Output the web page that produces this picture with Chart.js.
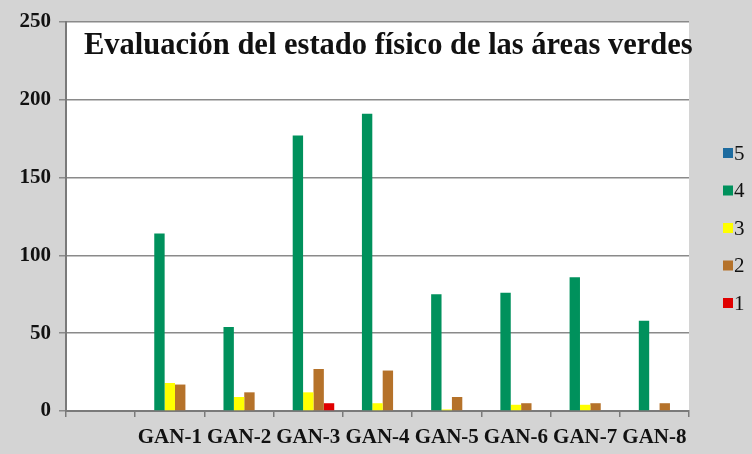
<!DOCTYPE html>
<html>
<head>
<meta charset="utf-8">
<script src="https://cdn.jsdelivr.net/npm/chart.js@4/dist/chart.umd.min.js"></script>
<style>
  html, body { margin: 0; padding: 0; background: #d4d4d4; }
  #wrap { width: 752px; height: 454px; }
</style>
</head>
<body>
<div id="wrap"><canvas id="myChart" width="752" height="454"></canvas></div>
<script>
// categories (first slot is empty in the original)
const categories = ['', 'GAN-1', 'GAN-2', 'GAN-3', 'GAN-4', 'GAN-5', 'GAN-6', 'GAN-7', 'GAN-8'];
const seriesNames = ['5', '4', '3', '2', '1'];
const values5 = [null, 0, 0, 0, 0, 0, 0, 0, 0];
const values4 = [null, 114, 54, 177, 191, 75, 76, 86, 58];
const values3 = [null, 18, 9, 12, 5, 1, 4, 4, 0];
const values2 = [null, 17, 12, 27, 26, 9, 5, 5, 5];
const values1 = [null, 0, 0, 5, 0, 0, 0, 0, 0];
const yTicks = [0, 50, 100, 150, 200, 250];
const chartTitle = 'Evaluación del estado físico de las áreas verdes';

const colors = ['#1d6b9f', '#00915c', '#ffff00', '#b5722a', '#e00000'];
const allValues = [values5, values4, values3, values2, values1];

let datasets = [];
for (let i = 0; i < seriesNames.length; i++) {
  datasets.push({
    label: seriesNames[i],
    data: allValues[i],
    backgroundColor: colors[i],
    borderWidth: 0,
    barPercentage: 1,
    categoryPercentage: 0.75
  });
}

// white plot area on gray background, title inside the plot, legend on the right
const decor = {
  id: 'decor',
  beforeDraw(chart) {
    const ctx = chart.ctx;
    const a = chart.chartArea;
    ctx.save();
    ctx.fillStyle = '#d4d4d4';
    ctx.fillRect(0, 0, chart.width, chart.height);
    ctx.fillStyle = '#ffffff';
    ctx.fillRect(a.left, a.top, a.right - a.left, a.bottom - a.top);
    ctx.restore();
  },
  afterDraw(chart) {
    const ctx = chart.ctx;
    ctx.save();
    ctx.font = 'bold 30.5px "Liberation Serif", serif';
    ctx.fillStyle = '#111111';
    ctx.textBaseline = 'middle';
    ctx.fillText(chartTitle, 84, 46);
    // legend
    ctx.font = '21px "Liberation Serif", serif';
    const sets = chart.data.datasets;
    for (let i = 0; i < sets.length; i++) {
      const yc = 153 + i * 37.5;
      ctx.fillStyle = sets[i].backgroundColor;
      ctx.fillRect(723, yc - 5, 10, 10);
      ctx.fillStyle = '#111111';
      ctx.fillText(sets[i].label, 734, yc + 1);
    }
    ctx.restore();
  }
};

const ctx = document.getElementById('myChart').getContext('2d');
const chart = new Chart(ctx, {
  type: 'bar',
  data: {
    labels: categories,
    datasets: datasets
  },
  options: {
    responsive: false,
    animation: false,
    layout: { padding: { top: 22, right: 63, left: 0, bottom: 0 } },
    plugins: {
      title: { display: false },
      tooltip: { enabled: false },
      legend: { display: false }
    },
    scales: {
      x: {
        grid: {
          offset: true,
          drawOnChartArea: false,
          drawTicks: true,
          tickLength: 6,
          color: '#7a7a7a',
          lineWidth: 1.5
        },
        border: { color: '#7a7a7a', width: 2 },
        ticks: {
          color: '#111111',
          padding: 8,
          maxRotation: 0,
          autoSkip: false,
          font: { family: '"Liberation Serif", serif', size: 21, weight: 'bold' }
        },
        afterFit(scale) { scale.height = 43; }
      },
      y: {
        min: 0,
        max: 250,
        afterBuildTicks(scale) { scale.ticks = yTicks.map(v => ({ value: v })); },
        grid: {
          color: '#8a8a8a',
          lineWidth: 1.5,
          tickLength: 7
        },
        border: { color: '#7a7a7a', width: 2 },
        ticks: {
          color: '#111111',
          padding: 8,
          font: { family: '"Liberation Serif", serif', size: 21, weight: 'bold' }
        },
        afterFit(scale) { scale.width = 66; }
      }
    }
  },
  plugins: [decor]
});
</script>
</body>
</html>
